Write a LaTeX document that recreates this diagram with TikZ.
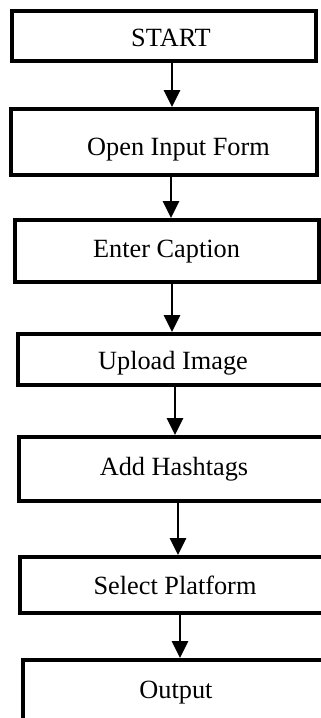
\documentclass[tikz,border=0pt]{standalone}
\usepackage{fontspec}
\setmainfont{Liberation Serif}
\usetikzlibrary{arrows.meta}
\tikzset{
  box/.style={draw=black, line width=3.8pt, fill=none, inner sep=0pt, rectangle},
  lbl/.style={anchor=base, inner sep=0pt, font=\fontsize{26.3}{30}\selectfont},
  arr/.style={line width=2.5pt, -{Triangle[width=16pt,length=17pt]}},
}
\begin{document}
\begin{tikzpicture}[x=1pt,y=-1pt]
\useasboundingbox (0,0) rectangle (321,718);
\clip (0,0) rectangle (321,718);
% boxes (centre-line dimensions)
\node[box, minimum width=304pt, minimum height=50pt] (start) at (164,36) {};
\node[box, minimum width=306pt, minimum height=66pt] (open) at (164,142) {};
\node[box, minimum width=304pt, minimum height=62pt] (enter) at (167,251) {};
\node[box, minimum width=322pt, minimum height=51pt] (upload) at (179,359.5) {};
\node[box, minimum width=321pt, minimum height=64pt] (add) at (179.5,469) {};
\node[box, minimum width=320pt, minimum height=56pt] (select) at (180,585) {};
\node[box, minimum width=317pt, minimum height=80pt] (output) at (181.5,700) {};
% labels
\node[lbl] (tstart) at (171,46) {START};
\node[lbl] (topen) at (178.5,155) {Open Input Form};
\node[lbl] (tenter) at (166.5,257) {Enter Caption};
\node[lbl] (tupload) at (173,369) {Upload Image};
\node[lbl] (tadd) at (174,475) {Add Hashtags};
\node[lbl] (tselect) at (175,594) {Select Platform};
\node[lbl] (toutput) at (176,698) {Output};
% connectors
\draw[arr] (start.south -| 172,0) -- (open.north -| 172,0);
\draw[arr] (open.south -| 171,0) -- (enter.north -| 171,0);
\draw[arr] (enter.south -| 172,0) -- (upload.north -| 172,0);
\draw[arr] (upload.south -| 175,0) -- (add.north -| 175,0);
\draw[arr] (add.south -| 178,0) -- (select.north -| 178,0);
\draw[arr] (select.south -| 180,0) -- (output.north -| 180,0);
\end{tikzpicture}
\end{document}
